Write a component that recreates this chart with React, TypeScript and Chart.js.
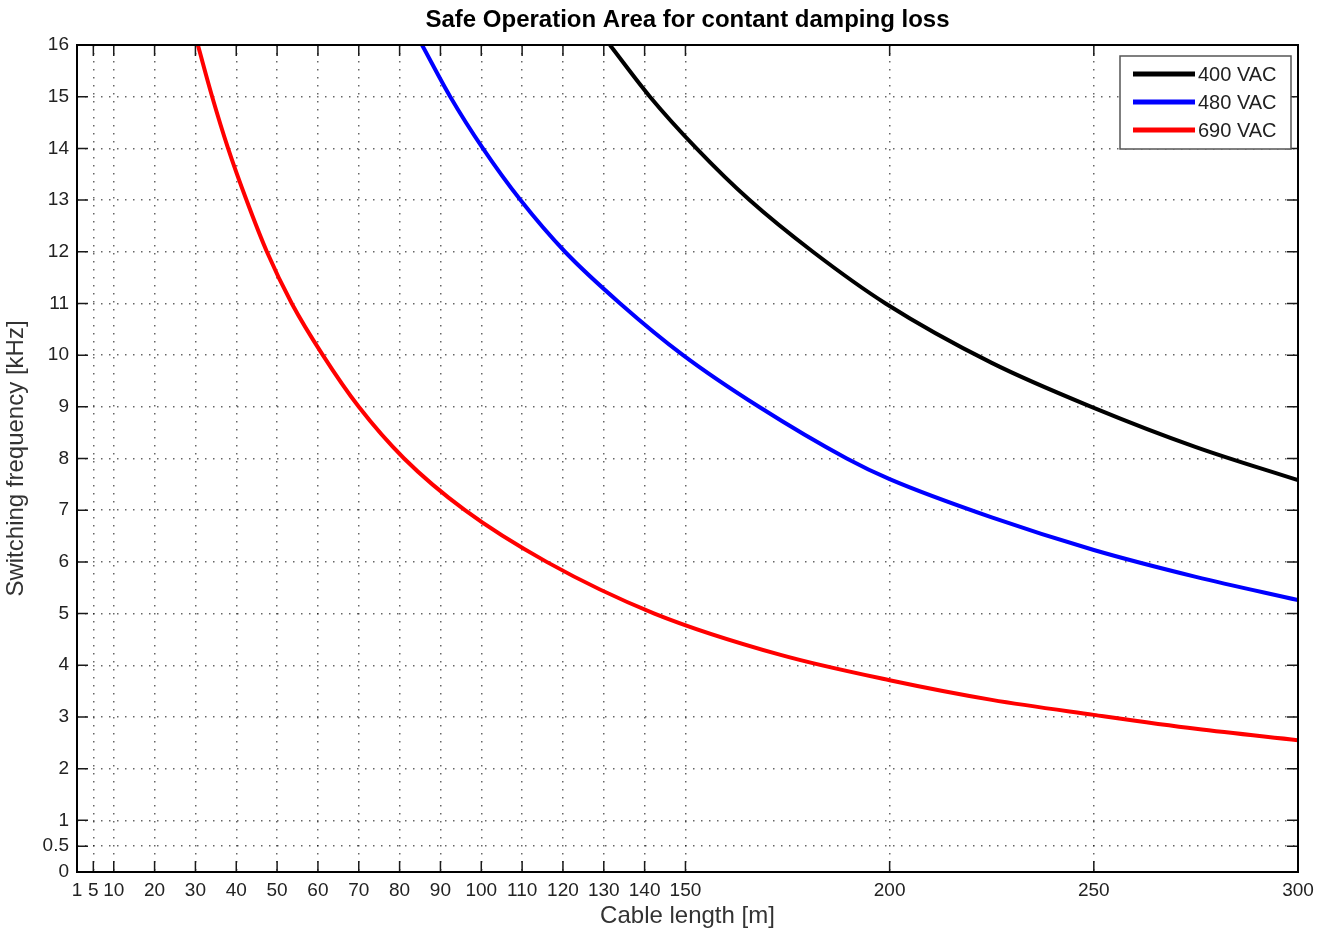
import React, { useEffect, useRef } from 'react';
import { Chart, registerables } from 'chart.js';

Chart.register(...registerables);

const TITLE = 'Safe Operation Area for contant damping loss';
const X_LABEL = 'Cable length [m]';
const Y_LABEL = 'Switching frequency [kHz]';

const X_TICKS = [1, 5, 10, 20, 30, 40, 50, 60, 70, 80, 90, 100, 110, 120, 130, 140, 150, 200, 250, 300];
const Y_TICKS = [0, 0.5, 1, 2, 3, 4, 5, 6, 7, 8, 9, 10, 11, 12, 13, 14, 15, 16];

const SERIES_NAMES = ['400 VAC', '480 VAC', '690 VAC'];
const SERIES_COLORS = ['#000000', '#0000ff', '#ff0000'];

const LEN_400 = [131.5, 141.3, 152.7, 165.7, 181.2, 199, 225, 250, 275, 300];
const FREQ_400 = [16, 15, 14, 13, 12, 11, 9.85, 8.98, 8.22, 7.58];

const LEN_480 = [85.5, 92.4, 100.4, 109.6, 120.5, 134, 149.4, 168, 189.5, 200, 225, 250, 275, 300];
const FREQ_480 = [16, 15, 14, 13, 12, 11, 10, 9, 8, 7.6, 6.86, 6.23, 5.71, 5.26];

const LEN_690 = [30.6, 34.1, 38.0, 42.5, 47.5, 53.6, 61.2, 70, 81.1, 96, 116, 142.4, 173.3, 200, 225, 250, 275, 300];
const FREQ_690 = [16, 15, 14, 13, 12, 11, 10, 9, 8, 7, 6, 5, 4.2, 3.71, 3.33, 3.04, 2.77, 2.55];

const FONT = '"Liberation Sans", Arial, Helvetica, sans-serif';

const toPoints = (xs: number[], ys: number[]) => xs.map((x, i) => ({ x, y: ys[i] }));

const framePlugin = {
  id: 'matlabFrame',
  afterDatasetsDraw(chart: any) {
    const { ctx, chartArea: a, scales } = chart;
    ctx.save();
    // inward ticks
    const TL = 11;
    ctx.strokeStyle = '#1a1a1a';
    ctx.lineWidth = 1.5;
    ctx.beginPath();
    X_TICKS.forEach((v) => {
      const px = scales.x.getPixelForValue(v);
      ctx.moveTo(px, a.bottom);
      ctx.lineTo(px, a.bottom - TL);
      ctx.moveTo(px, a.top);
      ctx.lineTo(px, a.top + TL);
    });
    Y_TICKS.forEach((v) => {
      const py = scales.y.getPixelForValue(v);
      ctx.moveTo(a.left, py);
      ctx.lineTo(a.left + TL, py);
      ctx.moveTo(a.right, py);
      ctx.lineTo(a.right - TL, py);
    });
    ctx.stroke();
    // frame
    ctx.strokeStyle = '#000';
    ctx.lineWidth = 2;
    ctx.strokeRect(a.left, a.top, a.right - a.left, a.bottom - a.top);

    // legend
    const lx = 1120, ly = 56, lw = 171, lh = 93;
    ctx.fillStyle = '#fff';
    ctx.fillRect(lx, ly, lw, lh);
    ctx.strokeStyle = '#555';
    ctx.lineWidth = 1.5;
    ctx.strokeRect(lx, ly, lw, lh);
    ctx.font = `20px ${FONT}`;
    ctx.textBaseline = 'middle';
    ctx.textAlign = 'left';
    chart.data.datasets.forEach((ds: any, i: number) => {
      const y = ly + 18 + i * 28;
      ctx.strokeStyle = ds.borderColor;
      ctx.lineWidth = 5;
      ctx.beginPath();
      ctx.moveTo(lx + 13, y);
      ctx.lineTo(lx + 75, y);
      ctx.stroke();
      ctx.fillStyle = '#222';
      ctx.fillText(ds.label, lx + 78, y + 1);
    });

    // title
    ctx.fillStyle = '#000';
    ctx.font = `bold 24px ${FONT}`;
    ctx.textAlign = 'center';
    ctx.textBaseline = 'middle';
    ctx.fillText(TITLE, (a.left + a.right) / 2, 20);
    ctx.restore();
  },
};

export default function App() {
  const ref = useRef<HTMLCanvasElement | null>(null);

  useEffect(() => {
    if (!ref.current) return;
    const lens = [LEN_400, LEN_480, LEN_690];
    const freqs = [FREQ_400, FREQ_480, FREQ_690];
    const gridStyle = {
      color: 'rgba(0,0,0,0.6)',
      lineWidth: 1.5,
      drawTicks: false,
    };
    const chart = new Chart(ref.current, {
      type: 'line',
      data: {
        datasets: SERIES_NAMES.map((name, i) => ({
          label: name,
          data: toPoints(lens[i], freqs[i]),
          borderColor: SERIES_COLORS[i],
          backgroundColor: SERIES_COLORS[i],
          borderWidth: 4,
          pointRadius: 0,
          cubicInterpolationMode: 'monotone' as const,
          fill: false,
        })),
      },
      options: {
        animation: false,
        responsive: false,
        maintainAspectRatio: false,
        devicePixelRatio: 1,
        layout: { padding: { top: 45, right: 33, left: 0, bottom: 0 } },
        plugins: {
          legend: { display: false },
          title: { display: false },
          tooltip: { enabled: false },
        },
        scales: {
          x: {
            type: 'linear',
            min: 1,
            max: 300,
            afterBuildTicks: (s: any) => {
              s.ticks = X_TICKS.map((v) => ({ value: v }));
            },
            afterFit: (s: any) => {
              s.height = 65;
            },
            grid: gridStyle,
            border: { display: false, dash: [1.5, 6.5] },
            ticks: {
              autoSkip: false,
              maxRotation: 0,
              padding: 7,
              color: '#222',
              font: { family: FONT, size: 19 },
              callback: (v: any) => String(v),
            },
            title: {
              display: true,
              text: X_LABEL,
              color: '#333',
              font: { family: FONT, size: 24 },
              padding: { top: 0, bottom: 6 },
            },
          },
          y: {
            type: 'linear',
            min: 0,
            max: 16,
            afterBuildTicks: (s: any) => {
              s.ticks = Y_TICKS.map((v) => ({ value: v }));
            },
            afterFit: (s: any) => {
              s.width = 77;
            },
            grid: gridStyle,
            border: { display: false, dash: [1.5, 6.5] },
            ticks: {
              autoSkip: false,
              padding: 8,
              color: '#222',
              font: { family: FONT, size: 19 },
              callback: (v: any) => String(v),
            },
            title: {
              display: true,
              text: Y_LABEL,
              color: '#333',
              font: { family: FONT, size: 24 },
              padding: { top: 2, bottom: 0 },
            },
          },
        },
      } as any,
      plugins: [framePlugin],
    });
    return () => chart.destroy();
  }, []);

  return (
    <div style={{ position: 'absolute', left: 0, top: 0, width: 1331, height: 937, background: '#fff' }}>
      <canvas ref={ref} width={1331} height={937} style={{ display: 'block' }} />
    </div>
  );
}
